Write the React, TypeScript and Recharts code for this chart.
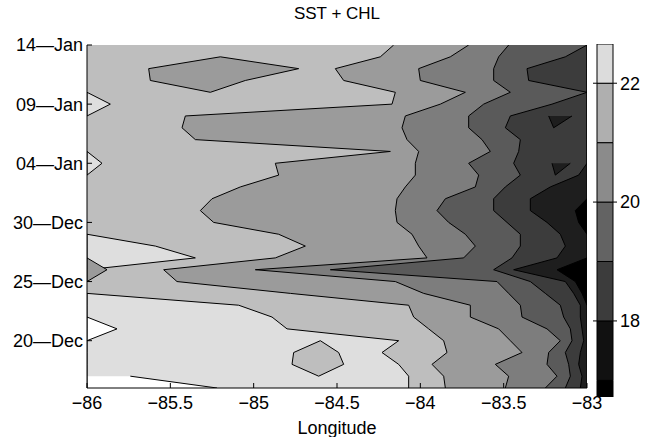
import { Area, Bar, BarChart, CartesianGrid, ComposedChart, XAxis, YAxis } from 'recharts';

const FONT = '"Liberation Sans", Arial, Helvetica, sans-serif';

// rows of the grid: day counted from 1 Dec (32 = 01 Jan), top row first
const days = [45, 44, 43, 42, 41, 40, 39, 38, 37, 36, 35, 34, 33, 32, 31, 30, 29, 28, 27, 26, 25, 24, 23, 22, 21, 20, 19, 18, 17, 16];

// west edge (longitude) of each colder band on every row; the band runs on to -83
const edge9B = [-84.16, -84.24, -84.51, -84.46, -84.15, -84.17, -85.41, -85.43, -85.35, -84.18, -84.87, -84.85, -85.08, -85.25, -85.32, -85.24, -84.85, -84.69, -84.87, -85.54, -85.46, -84.78, -84.07, -84.04, -83.95, -83.86, -83.84, -83.93, -83.86, -83.85];
const edge7D = [-83.71, -83.82, -84.01, -84.0, -83.73, -83.88, -84.09, -84.11, -84.08, -84.01, -84.03, -84.03, -84.09, -84.14, -84.15, -84.14, -84.05, -84.01, -83.96, -84.99, -84.15, -83.98, -83.7, -83.7, -83.53, -83.46, -83.39, -83.55, -83.47, -83.49];
const edge5A = [-83.47, -83.53, -83.56, -83.56, -83.46, -83.62, -83.71, -83.71, -83.63, -83.58, -83.71, -83.65, -83.67, -83.85, -83.9, -83.83, -83.73, -83.67, -83.74, -84.54, -83.54, -83.47, -83.4, -83.39, -83.24, -83.16, -83.23, -83.24, -83.18, -83.25];
const edge3C = [-83.0, -83.13, -83.36, -83.35, -83.0, -83.21, -83.46, -83.49, -83.4, -83.41, -83.44, -83.4, -83.49, -83.56, -83.56, -83.48, -83.4, -83.4, -83.45, -83.56, -83.34, -83.25, -83.16, -83.14, -83.1, -83.09, -83.13, -83.11, -83.1, -83.13];
const edge1E = [null, null, null, null, null, null, null, null, null, null, -83.0, -83.05, -83.22, -83.34, -83.34, -83.24, -83.16, -83.13, -83.18, -83.44, -83.13, -83.08, -83.04, -83.04, -83.03, -83.02, -83.04, -83.05, -83.03, -83.04];

// patches: [day, west, east]
const blackA = [[32, -83, -83], [31, -83.07, -83], [30, -83.05, -83], [29, -83, -83]];
const blackB = [[27, -83, -83], [26, -83.18, -83], [25, -83.07, -83], [24, -83.03, -83], [23, -83, -83]];
const island9B = [[44, -85.2, -85.2], [43, -85.63, -84.73], [42, -85.62, -85.05], [41, -85.26, -85.26]];
const edgeNotch9B = [[27, -86, -86], [26, -86, -85.88], [25, -86, -86]];
const warmJan09 = [[41, -86, -86], [40, -86, -85.86], [39, -86, -86]];
const warmJan04 = [[36, -86, -86], [35, -86, -85.91], [34, -86, -86]];
const warmTongue = [[29, -86, -86], [28, -86, -85.59], [27, -86, -85.35], [26, -86, -86]];
const warmSouth = [[24, -86, -86], [23, -86, -85.09], [22, -86, -84.89], [21, -86, -84.8], [20, -86, -84.13], [19, -86, -84.23], [18, -86, -84.13], [17, -86, -84.07], [16, -86, -84.07]];
const coolWedge = [[20, -84.6, -84.6], [19, -84.76, -84.49], [18, -84.77, -84.46], [17, -84.61, -84.61]];
const hotDec20 = [[22, -86, -86], [21, -86, -85.82], [20, -86, -86]];
const hotSouth = [[17, -86, -85.74], [16, -86, -85.22]];
const spot1EA = [[39, -83.23, -83.09], [38, -83.2, -83.2]];
const spot1EB = [[35, -83.21, -83.1], [34, -83.19, -83.19]];

const lonTicks = [-86, -85.5, -85, -84.5, -84, -83.5, -83];
const dateTicks = [20, 25, 30, 35, 40, 45];
const dateLabels = ['20—Dec', '25—Dec', '30—Dec', '04—Jan', '09—Jan', '14—Jan'];

// colorbar
const cbLevels = [16.72, 17, 18, 19, 20, 21, 22, 22.66];
const cbTicks = [18, 20, 22];
const cbColors = ['#000000', '#111111', '#3c3c3c', '#636363', '#8b8b8b', '#afafaf', '#dcdcdc'];

const GRAY = {
  w: '#ffffff',
  de: '#dedede',
  be: '#bebebe',
  g9b: '#9b9b9b',
  g7d: '#7d7d7d',
  g5a: '#5a5a5a',
  g3c: '#3c3c3c',
  g1e: '#1e1e1e',
  k: '#000000',
};

// full-width bands share one table
const table = days.map((day, i) => ({
  day,
  b9B: [edge9B[i], -83],
  b7D: [edge7D[i], -83],
  b5A: [edge5A[i], -83],
  b3C: [edge3C[i], -83],
  b1E: edge1E[i] == null ? null : [edge1E[i], -83],
}));

// patches carry their own rows so no gaps are drawn
const toRows = (list: number[][]) => list.map(([day, a, b]) => ({ day, v: [a, b] }));

type Layer = { key: string; fill: string; rows?: { day: number; v: number[] }[] };

const layers: Layer[] = [
  { key: 'warmSouth', fill: GRAY.de, rows: toRows(warmSouth) },
  { key: 'warmTongue', fill: GRAY.de, rows: toRows(warmTongue) },
  { key: 'warmJan09', fill: GRAY.de, rows: toRows(warmJan09) },
  { key: 'warmJan04', fill: GRAY.de, rows: toRows(warmJan04) },
  { key: 'hotDec20', fill: GRAY.w, rows: toRows(hotDec20) },
  { key: 'hotSouth', fill: GRAY.w, rows: toRows(hotSouth) },
  { key: 'coolWedge', fill: GRAY.be, rows: toRows(coolWedge) },
  { key: 'b9B', fill: GRAY.g9b },
  { key: 'island9B', fill: GRAY.g9b, rows: toRows(island9B) },
  { key: 'edgeNotch9B', fill: GRAY.g9b, rows: toRows(edgeNotch9B) },
  { key: 'b7D', fill: GRAY.g7d },
  { key: 'b5A', fill: GRAY.g5a },
  { key: 'b3C', fill: GRAY.g3c },
  { key: 'b1E', fill: GRAY.g1e },
  { key: 'spot1EA', fill: GRAY.g1e, rows: toRows(spot1EA) },
  { key: 'spot1EB', fill: GRAY.g1e, rows: toRows(spot1EB) },
  { key: 'blackA', fill: GRAY.k, rows: toRows(blackA) },
  { key: 'blackB', fill: GRAY.k, rows: toRows(blackB) },
];

const cbRow: Record<string, any> = { name: 'cb', base: cbLevels[0] };
cbColors.forEach((_, i) => {
  cbRow[`s${i}`] = cbLevels[i + 1] - cbLevels[i];
});

const tickStyle = { fill: '#000', fontSize: 18, fontFamily: FONT };
const lonLabel = (v: number) => (v < 0 ? `−${Math.abs(v)}` : String(v));
const dateLabel = (v: number) => dateLabels[dateTicks.indexOf(v)] ?? '';

export default function App() {
  return (
    <div style={{ position: 'absolute', left: 0, top: 0, width: 647, height: 437, background: '#fff', fontFamily: FONT }}>
      <div style={{ position: 'absolute', left: 87, top: 4, width: 500, textAlign: 'center', fontSize: 17, color: '#000' }}>
        SST + CHL
      </div>
      <div style={{ position: 'absolute', left: 0, top: 0 }}>
        <ComposedChart layout="vertical" width={647} height={437} data={table} margin={{ top: 45, right: 60, bottom: 0, left: 0 }}>
          <CartesianGrid fill={GRAY.be} horizontal={false} vertical={false} stroke="none" />
          {layers.map((l) => (
            <Area
              key={l.key}
              data={l.rows}
              dataKey={l.rows ? 'v' : l.key}
              type="linear"
              fill={l.fill}
              fillOpacity={1}
              stroke="#000"
              strokeWidth={1}
              dot={false}
              activeDot={false}
              connectNulls={false}
              isAnimationActive={false}
            />
          ))}
          <XAxis
            type="number"
            domain={[-86, -83]}
            allowDataOverflow
            ticks={lonTicks}
            interval={0}
            tickFormatter={lonLabel}
            tick={tickStyle}
            tickSize={-5}
            tickMargin={13}
            tickLine={{ stroke: '#000' }}
            axisLine={{ stroke: '#000' }}
            height={49}
            label={{ value: 'Longitude', position: 'insideBottom', offset: 3, fill: '#000', fontSize: 18, fontFamily: FONT }}
          />
          <XAxis
            xAxisId="top"
            orientation="top"
            type="number"
            domain={[-86, -83]}
            allowDataOverflow
            ticks={lonTicks}
            interval={0}
            height={0}
            tickSize={-5}
            tickFormatter={() => ''}
            tickLine={{ stroke: '#000' }}
            axisLine={{ stroke: '#000' }}
          />
          <YAxis
            type="number"
            dataKey="day"
            domain={[16, 45]}
            reversed
            allowDataOverflow
            ticks={dateTicks}
            interval={0}
            tickFormatter={dateLabel}
            tick={tickStyle}
            tickSize={-5}
            tickMargin={9}
            tickLine={{ stroke: '#000' }}
            axisLine={{ stroke: '#000' }}
            width={87}
          />
          <YAxis
            yAxisId="right"
            orientation="right"
            type="number"
            domain={[16, 45]}
            reversed
            allowDataOverflow
            ticks={dateTicks}
            interval={0}
            width={0}
            tickSize={-5}
            tickFormatter={() => ''}
            tickLine={{ stroke: '#000' }}
            axisLine={{ stroke: '#000' }}
          />
        </ComposedChart>
      </div>
      <div style={{ position: 'absolute', left: 580, top: 0 }}>
        <BarChart width={67} height={437} data={[cbRow]} margin={{ top: 44, right: 0, bottom: 40, left: 0 }} barCategoryGap={0}>
          <XAxis dataKey="name" type="category" hide />
          <YAxis
            yAxisId="cb"
            orientation="right"
            type="number"
            domain={[cbLevels[0], cbLevels[cbLevels.length - 1]]}
            allowDataOverflow
            ticks={cbTicks}
            interval={0}
            width={34}
            tickSize={4}
            tickMargin={3}
            tick={tickStyle}
            tickLine={{ stroke: '#000' }}
            axisLine={false}
          />
          <YAxis
            yAxisId="cbl"
            orientation="left"
            type="number"
            domain={[cbLevels[0], cbLevels[cbLevels.length - 1]]}
            allowDataOverflow
            ticks={cbTicks}
            interval={0}
            width={17}
            tickSize={4}
            tickFormatter={() => ''}
            tickLine={{ stroke: '#000' }}
            axisLine={false}
          />
          <Bar yAxisId="cb" dataKey="base" stackId="c" fill="none" stroke="none" isAnimationActive={false} />
          {cbColors.map((c, i) => (
            <Bar key={c} yAxisId="cb" dataKey={`s${i}`} stackId="c" fill={c} stroke="#000" strokeWidth={1} isAnimationActive={false} />
          ))}
        </BarChart>
      </div>
    </div>
  );
}
